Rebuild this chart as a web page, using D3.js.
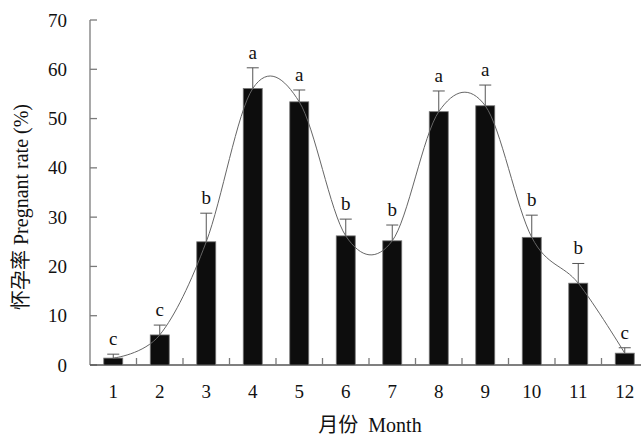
<!DOCTYPE html>
<html>
<head>
<meta charset="utf-8">
<script src="https://cdn.jsdelivr.net/npm/d3@7"></script>
<style>
  body { margin: 0; background: #fff; }
  text { font-family: "Liberation Serif", "Noto Sans CJK SC", serif; fill: #111; }
</style>
</head>
<body>
<svg id="chart" width="641" height="438"></svg>
<script>
const months = ["1","2","3","4","5","6","7","8","9","10","11","12"];
const rates = [1.4, 6.1, 25.0, 56.1, 53.4, 26.2, 25.2, 51.4, 52.6, 25.9, 16.6, 2.4];
const errTops = [2.2, 8.1, 30.8, 60.3, 55.8, 29.6, 28.4, 55.6, 56.8, 30.4, 20.6, 3.5];
const letters = ["c","c","b","a","a","b","b","a","a","b","b","c"];
const yTicks = [0, 10, 20, 30, 40, 50, 60, 70];

const svg = d3.select("#chart");
const axisCol = "#7a7a7a";

const x = d3.scaleBand().domain(months).range([90, 648]).paddingInner(0).paddingOuter(0);
const y = d3.scaleLinear().domain([0, 70]).range([365, 20]);
const barW = 19;

// y axis
svg.append("line").attr("x1", 90).attr("x2", 90).attr("y1", y(70)).attr("y2", y(0))
  .attr("stroke", axisCol).attr("stroke-width", 1.3);
svg.selectAll(".yt").data(yTicks).enter().append("line")
  .attr("x1", 90).attr("x2", 97).attr("y1", d => y(d)).attr("y2", d => y(d))
  .attr("stroke", axisCol).attr("stroke-width", 1.3);
svg.selectAll(".yl").data(yTicks).enter().append("text")
  .attr("x", 67).attr("y", d => y(d) + 6.5).attr("text-anchor", "end")
  .attr("font-size", 19).text(d => d);

// x axis
svg.append("line").attr("x1", 90).attr("x2", 641).attr("y1", y(0)).attr("y2", y(0))
  .attr("stroke", "#555").attr("stroke-width", 1.3);
svg.selectAll(".xt").data(months.slice(1)).enter().append("line")
  .attr("x1", d => x(d)).attr("x2", d => x(d)).attr("y1", y(0)).attr("y2", y(0) - 7)
  .attr("stroke", axisCol).attr("stroke-width", 1.3);
svg.selectAll(".xl").data(months).enter().append("text")
  .attr("x", d => x(d) + x.bandwidth() / 2).attr("y", 398).attr("text-anchor", "middle")
  .attr("font-size", 19).text(d => d);

// bars
svg.selectAll(".bar").data(rates).enter().append("rect")
  .attr("x", (d, i) => x(months[i]) + x.bandwidth() / 2 - barW / 2)
  .attr("y", d => y(d)).attr("width", barW).attr("height", d => y(0) - y(d))
  .attr("fill", "#0d0d0d").attr("stroke", "#777").attr("stroke-width", 0.8);

// error bars
const cx = i => x(months[i]) + x.bandwidth() / 2;
svg.selectAll(".eb").data(errTops).enter().append("line")
  .attr("x1", (d, i) => cx(i)).attr("x2", (d, i) => cx(i))
  .attr("y1", (d, i) => y(rates[i])).attr("y2", d => y(d))
  .attr("stroke", "#555").attr("stroke-width", 1);
svg.selectAll(".ec").data(errTops).enter().append("line")
  .attr("x1", (d, i) => cx(i) - 6).attr("x2", (d, i) => cx(i) + 6)
  .attr("y1", d => y(d)).attr("y2", d => y(d))
  .attr("stroke", "#555").attr("stroke-width", 1);

// smooth line
const line = d3.line().x((d, i) => cx(i)).y(d => y(d)).curve(d3.curveCardinal.tension(0));
svg.append("path").datum(rates).attr("d", line)
  .attr("fill", "none").attr("stroke", "#666").attr("stroke-width", 1);

// letters
svg.selectAll(".lt").data(letters).enter().append("text")
  .attr("x", (d, i) => cx(i)).attr("y", (d, i) => y(errTops[i]) - 9)
  .attr("text-anchor", "middle").attr("font-size", 19).text(d => d);

// axis titles
svg.append("text").attr("transform", "translate(28,207) rotate(-90)")
  .attr("text-anchor", "middle").attr("font-size", 20)
  .text("怀孕率 Pregnant rate (%)");
svg.append("text").attr("x", 370).attr("y", 432).attr("text-anchor", "middle")
  .attr("font-size", 20).attr("xml:space", "preserve").text("月份  Month");
</script>
</body>
</html>
